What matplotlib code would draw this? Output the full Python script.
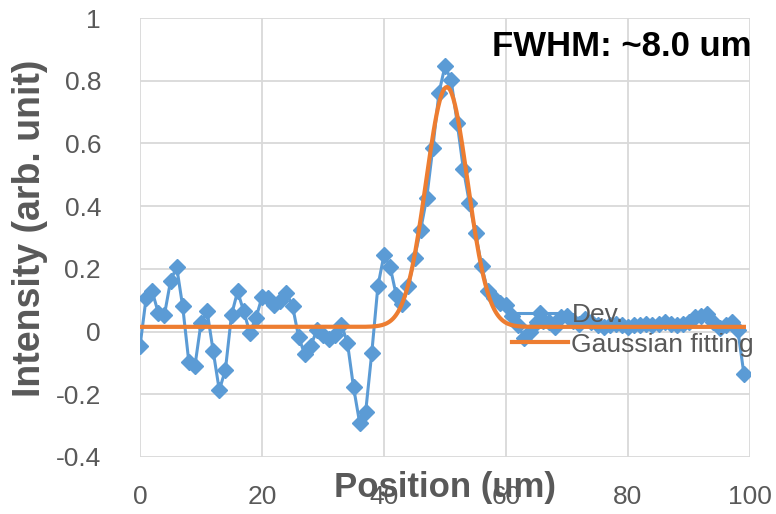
import numpy as np
import matplotlib
matplotlib.use("Agg")
from matplotlib import pyplot as plt

#-------------------------------------------------------------
# measured profile (read off the reference)
position = list(range(100))
intensity = [
    -0.047, 0.107, 0.128, 0.060, 0.053, 0.160, 0.207, 0.080, -0.096, -0.110,
     0.027, 0.065, -0.063, -0.187, -0.122, 0.053, 0.128, 0.065, -0.003, 0.043,
     0.110, 0.107, 0.085, 0.096, 0.123, 0.082, -0.017, -0.072, -0.045, 0.005,
    -0.011, -0.024, -0.011, 0.022, -0.035, -0.177, -0.290, -0.255, -0.067, 0.145,
     0.245, 0.207, 0.117, 0.088, 0.145, 0.235, 0.324, 0.426, 0.585, 0.760,
     0.847, 0.802, 0.665, 0.520, 0.410, 0.314, 0.209, 0.130, 0.107, 0.092,
     0.085, 0.050, 0.020, -0.020, 0.000, 0.030, 0.035, 0.030, 0.015, 0.045,
     0.050, 0.035, 0.025, 0.040, 0.030, 0.020, 0.015, 0.020, 0.025, 0.020,
     0.015, 0.020, 0.020, 0.025, 0.020, 0.025, 0.030, 0.025, 0.020, 0.025,
     0.030, 0.045, 0.050, 0.055, 0.030, 0.010, 0.020, 0.030, 0.005, -0.135,
]

# gaussian fit parameters
fit_baseline = 0.015
fit_amplitude = 0.765
fit_center = 50.3
fit_fwhm = 8.0

xticks = [0, 20, 40, 60, 80, 100]
yticks = [-0.4, -0.2, 0, 0.2, 0.4, 0.6, 0.8, 1]
yticklabels = ["-0.4", "-0.2", "0", "0.2", "0.4", "0.6", "0.8", "1"]

#-------------------------------------------------------------
plt.rcParams['font.family'] = ['Liberation Sans', 'DejaVu Sans']

fig = plt.figure(figsize=(7.76, 5.14), dpi=100)
ax = fig.add_axes([140/776, 1-457/514, 610/776, 439/514])

xfit = np.linspace(0, 99, 400)
sigma = fit_fwhm / (2*np.sqrt(2*np.log(2)))
yfit = fit_baseline + fit_amplitude*np.exp(-(xfit-fit_center)**2/(2*sigma**2))

ax.plot(position, intensity, color='#5B9BD5', lw=2.2, marker='D', ms=8,
        label='Dev.', zorder=3)
ax.plot(xfit, yfit, color='#ED7D31', lw=3.0, label='Gaussian fitting', zorder=4)

ax.set_xlim(0, 100)
ax.set_ylim(-0.4, 1)
ax.set_xticks(xticks)
ax.set_yticks(yticks)
ax.set_yticklabels(yticklabels)
ax.grid(True, color='#d9d9d9', lw=1.3)
ax.set_axisbelow(True)
for s in ax.spines.values():
    s.set_visible(False)
ax.tick_params(length=0, labelsize=19, labelcolor='#595959')
ax.tick_params(axis='y', pad=28)
ax.tick_params(axis='x', pad=20)

#-------------------------------------------------------------
fig.text(445/776, 1-488/514, 'Position (um)', ha='center', va='center',
         fontsize=25, fontweight='bold', color='#595959')
fig.text(30/776, 1-228/514, 'Intensity (arb. unit)', ha='center', va='center',
         rotation=90, fontsize=27, fontweight='bold', color='#595959')
fig.text(752/776, 1-47/514, 'FWHM: ~8.0 um', ha='right', va='center',
         fontsize=25, fontweight='bold', color='black')

ax.legend(loc='upper left', bbox_to_anchor=(0.61, 0.35), frameon=False,
          fontsize=19, labelcolor='#595959', handlelength=2.1,
          handletextpad=0.15, labelspacing=0.2, borderpad=0, borderaxespad=0)

fig.savefig('out.png', dpi=100)
#-------------------------------------------------------------
